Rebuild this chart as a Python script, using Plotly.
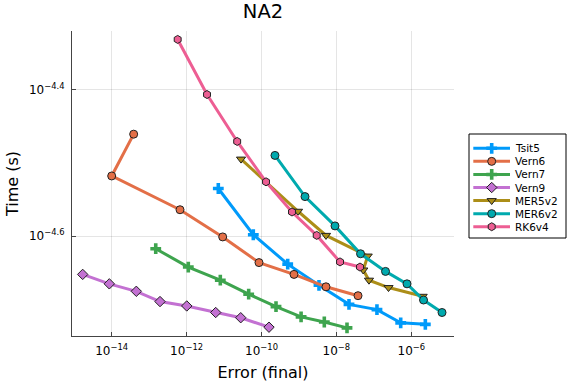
import plotly.graph_objects as go

# ---- data (Error (final), Time (s)) ----
tsit5_err = [7.02e-12, 6.04e-11, 5.01e-10, 3.43e-9, 2.17e-8, 1.21e-7, 5.21e-7, 2.37e-6]
tsit5_time = [2.917e-5, 2.523e-5, 2.301e-5, 2.153e-5, 2.028e-5, 1.995e-5, 1.914e-5, 1.905e-5]

vern6_err = [3.86e-14, 1.0e-14, 6.67e-13, 9.20e-12, 8.57e-11, 7.38e-10, 5.27e-9, 3.78e-8]
vern6_time = [3.459e-5, 3.034e-5, 2.729e-5, 2.506e-5, 2.312e-5, 2.228e-5, 2.143e-5, 2.084e-5]

vern7_err = [1.50e-13, 1.11e-12, 7.94e-12, 4.55e-11, 2.44e-10, 1.14e-9, 4.75e-9, 1.92e-8]
vern7_time = [2.415e-5, 2.280e-5, 2.188e-5, 2.094e-5, 2.014e-5, 1.950e-5, 1.919e-5, 1.884e-5]

vern9_err = [1.68e-15, 8.63e-15, 4.54e-14, 1.95e-13, 1.01e-12, 5.98e-12, 2.79e-11, 1.585e-10]
vern9_time = [2.228e-5, 2.163e-5, 2.113e-5, 2.046e-5, 2.018e-5, 1.977e-5, 1.945e-5, 1.888e-5]

mer5v2_err = [2.84e-11, 9.44e-10, 5.27e-9, 6.85e-8, 5.22e-8, 7.41e-8, 2.46e-7, 2.01e-6]
mer5v2_time = [3.199e-5, 2.716e-5, 2.518e-5, 2.360e-5, 2.259e-5, 2.188e-5, 2.138e-5, 2.080e-5]

mer6v2_err = [2.29e-10, 1.45e-9, 9.18e-9, 4.41e-8, 2.05e-7, 7.67e-7, 2.12e-6, 6.61e-6]
mer6v2_time = [3.236e-5, 2.844e-5, 2.594e-5, 2.377e-5, 2.249e-5, 2.163e-5, 2.056e-5, 1.977e-5]

rk6v4_err = [5.78e-13, 3.51e-12, 2.24e-11, 1.32e-10, 6.52e-10, 2.98e-9, 1.25e-8, 4.27e-8]
rk6v4_time = [4.656e-5, 3.917e-5, 3.381e-5, 2.979e-5, 2.710e-5, 2.518e-5, 2.317e-5, 2.280e-5]

series_names = ["Tsit5", "Vern6", "Vern7", "Vern9", "MER5v2", "MER6v2", "RK6v4"]

x_tickvals = [1e-14, 1e-12, 1e-10, 1e-8, 1e-6]
x_ticktext = ["10<sup>−14</sup>", "10<sup>−12</sup>", "10<sup>−10</sup>", "10<sup>−8</sup>", "10<sup>−6</sup>"]
y_tickvals = [10 ** -4.6, 10 ** -4.4]
y_ticktext = ["10<sup>−4.6</sup>", "10<sup>−4.4</sup>"]

errs = [tsit5_err, vern6_err, vern7_err, vern9_err, mer5v2_err, mer6v2_err, rk6v4_err]
times = [tsit5_time, vern6_time, vern7_time, vern9_time, mer5v2_time, mer6v2_time, rk6v4_time]
colors = ["#009AFA", "#E36F47", "#3EA44E", "#C371D2", "#AC8E18", "#00AAAE", "#ED5E93"]
symbols = ["cross", "circle", "cross", "diamond", "triangle-down", "circle", "hexagon"]

font = "DejaVu Sans, Arial, sans-serif"

# pixel geometry of the figure
W, H = 576, 384
ML, MR, MT, MB = 72, 4, 31, 48
PW, PH = W - ML - MR, H - MT - MB
plot_right = 454
leg_l, leg_r, leg_t, leg_b = 469, 566, 134, 238


def marker_style(sym, col):
    if sym == "cross":
        return dict(symbol=sym, size=9, color=col, line=dict(color=col, width=0))
    return dict(symbol=sym, size=8, color=col, line=dict(color="#222222", width=1))


fig = go.Figure()
for name, xs, ys, col, sym in zip(series_names, errs, times, colors, symbols):
    fig.add_trace(go.Scatter(
        x=xs, y=ys, name=name, mode="lines+markers", showlegend=False,
        line=dict(color=col, width=3), marker=marker_style(sym, col),
        xaxis="x", yaxis="y",
    ))

# custom compact legend drawn on its own small axes (range in box pixels)
box_w = leg_r - leg_l
box_h = leg_b - leg_t
row_gap = 13.07
first_row = 14.3
for i, (name, col, sym) in enumerate(zip(series_names, colors, symbols)):
    yy = first_row + i * row_gap
    fig.add_trace(go.Scatter(
        x=[4.3, 41], y=[yy, yy], mode="lines", line=dict(color=col, width=3),
        showlegend=False, hoverinfo="skip", xaxis="x2", yaxis="y2"))
    fig.add_trace(go.Scatter(
        x=[22.7], y=[yy], mode="markers", marker=marker_style(sym, col),
        showlegend=False, hoverinfo="skip", xaxis="x2", yaxis="y2"))
    fig.add_annotation(x=43.5, y=yy, xref="x2", yref="y2", text=name, showarrow=False,
                       xanchor="left", yanchor="middle", font=dict(family=font, size=10.5, color="black"))

fig.add_shape(type="rect", xref="x2 domain", yref="y2 domain", x0=0, x1=1, y0=0, y1=1,
              line=dict(color="black", width=1), fillcolor="rgba(0,0,0,0)", layer="below")

axis_common = dict(
    ticks="inside", ticklen=4, tickcolor="#444444",
    showgrid=True, gridcolor="rgba(0,0,0,0.1)", gridwidth=1,
    showline=True, linecolor="#444444", linewidth=1, mirror=False, zeroline=False,
    tickfont=dict(family=font, size=12, color="black"),
)

fig.update_layout(
    width=W, height=H,
    margin=dict(l=ML, r=MR, t=MT, b=MB, autoexpand=False),
    paper_bgcolor="white", plot_bgcolor="white",
    title=dict(text="NA2", x=(ML + plot_right) / 2 / W, xanchor="center", y=1 - 11 / H, yanchor="middle",
               font=dict(family=font, size=19.5, color="black")),
    font=dict(family=font, color="black"),
    showlegend=False,
    xaxis=dict(type="log", range=[-15.06, -4.86], domain=[0, (plot_right - ML) / PW],
               tickvals=x_tickvals, ticktext=x_ticktext, ticklabelstandoff=4,
               title=dict(text="Error (final)", font=dict(family=font, size=16), standoff=9),
               **axis_common),
    yaxis=dict(type="log", range=[-4.736, -4.3205], domain=[0, 1],
               tickvals=y_tickvals, ticktext=y_ticktext, ticklabelstandoff=4,
               title=dict(text="Time (s)", font=dict(family=font, size=16), standoff=6),
               **axis_common),
    xaxis2=dict(domain=[(leg_l - ML) / PW, (leg_r - ML) / PW], range=[0, box_w], anchor="y2",
                visible=False, fixedrange=True),
    yaxis2=dict(domain=[(H - MB - leg_b) / PH, (H - MB - leg_t) / PH], range=[box_h, 0], anchor="x2",
                visible=False, fixedrange=True),
)

fig.write_html("out.html", config={"displayModeBar": False},
               post_script="document.body.style.margin='0';")
